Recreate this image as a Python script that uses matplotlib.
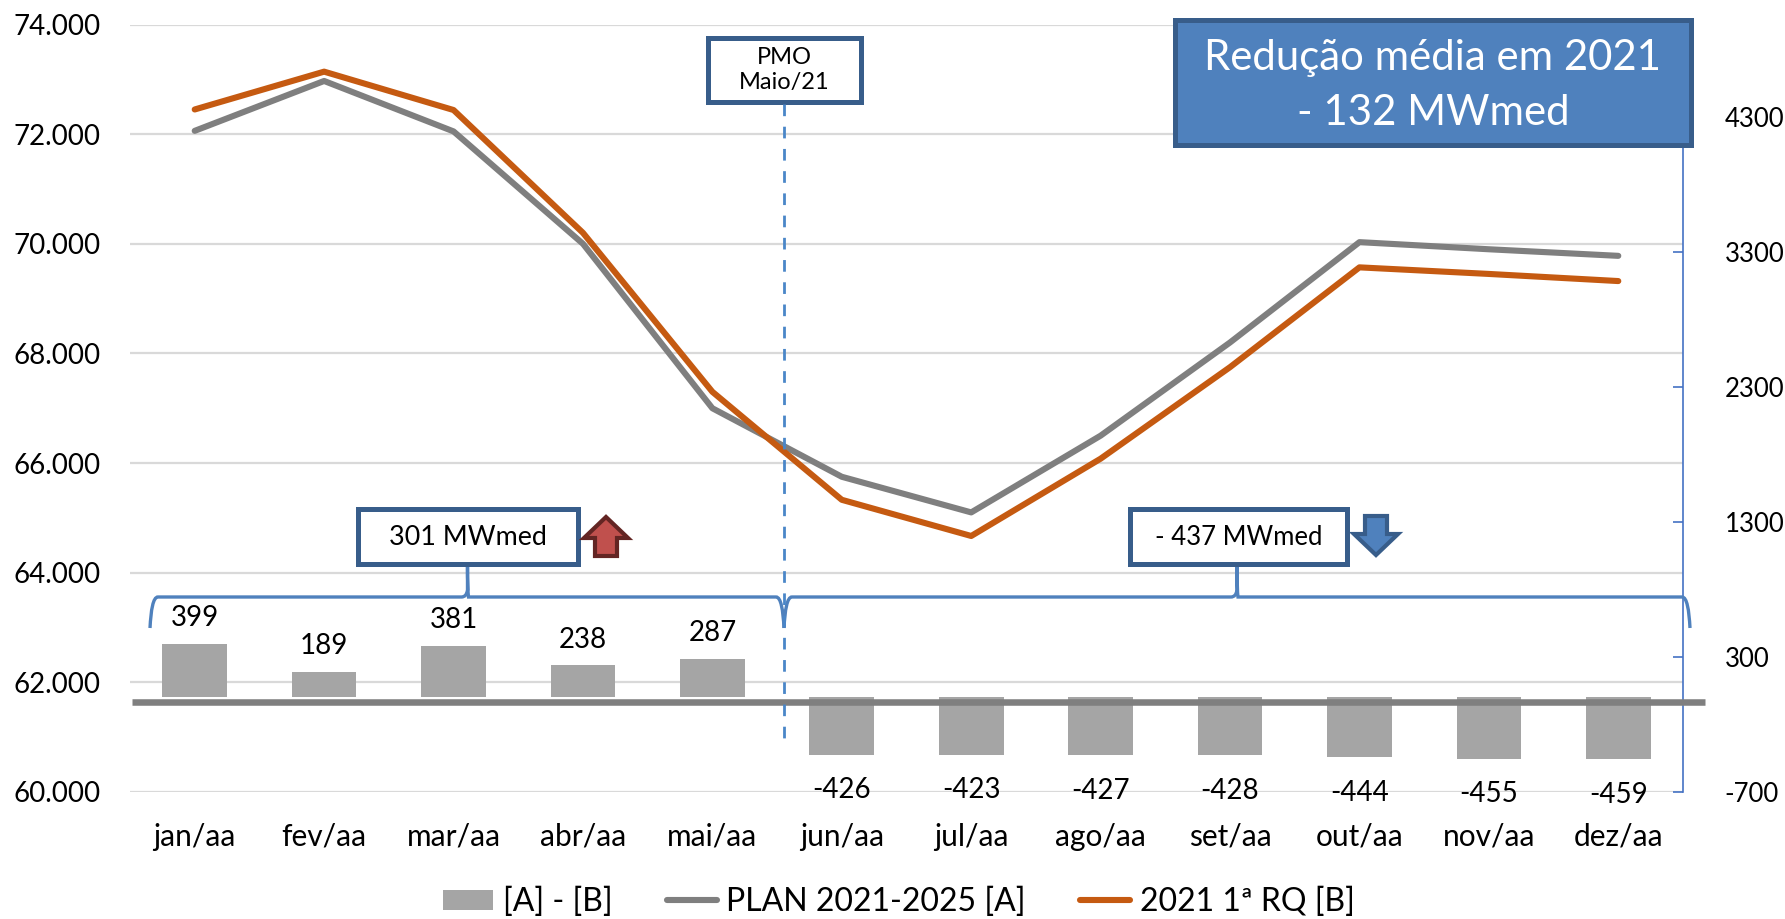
import numpy as np
import matplotlib
matplotlib.use('Agg')
import matplotlib.pyplot as plt
from matplotlib.patches import Rectangle, Polygon, PathPatch
from matplotlib.path import Path

plt.rcParams['font.family'] = ['Lato', 'DejaVu Sans']
plt.rcParams['axes.unicode_minus'] = False

months = ['jan/aa', 'fev/aa', 'mar/aa', 'abr/aa', 'mai/aa', 'jun/aa',
          'jul/aa', 'ago/aa', 'set/aa', 'out/aa', 'nov/aa', 'dez/aa']
plan = [72.06, 72.97, 72.05, 70.00, 67.00, 65.75, 65.10, 66.50, 68.20, 70.03, 69.90, 69.78]
rq = [72.45, 73.14, 72.44, 70.20, 67.30, 65.33, 64.67, 66.08, 67.75, 69.57, 69.45, 69.32]
diff = [399, 189, 381, 238, 287, -426, -423, -427, -428, -444, -455, -459]
left_ticks = [60, 62, 64, 66, 68, 70, 72, 74]
right_ticks = [-700, 300, 1300, 2300, 3300, 4300]

W, H = 1785, 919
GRAY = '#7F7F7F'
ORANGE = '#C55A11'
BAR = '#A5A5A5'
BLUE = '#4F81BD'
DARK = '#385D8A'

fig = plt.figure(figsize=(W/100, H/100), dpi=100)
ax = fig.add_axes([130/W, 1-792/H, (1683-130)/W, (792-24.5)/H])
ax2 = ax.twinx()
x = np.arange(12)

# lines on the left axis, bars on the right one
ax.plot(x, plan, color=GRAY, lw=4.4, solid_capstyle='round', label='PLAN 2021-2025 [A]')
ax.plot(x, rq, color=ORANGE, lw=4.4, solid_capstyle='round', label='2021 1ª RQ [B]')
bars = ax2.bar(x, diff, width=0.5, color=BAR, label='[A] - [B]')

ax.set_xlim(-0.5, 11.5)
ax.set_ylim(60, 74)
ax2.set_ylim(-700, 4985)
ax.set_yticks(left_ticks)
ax.set_yticklabels(['{:.3f}'.format(v) for v in left_ticks])
ax2.set_yticks(right_ticks)
ax.set_xticks(x)
ax.set_xticklabels(months)
ax.grid(axis='y', color='#D9D9D9', lw=1.6)
ax.set_axisbelow(True)
ax.tick_params(axis='y', length=0, labelsize=20, pad=21)
ax.tick_params(axis='x', length=0, labelsize=21.5, pad=22)
ax2.tick_params(axis='y', direction='in', length=7, color='#4472C4', width=1.2, labelsize=18.5, pad=30)
for s in ax.spines.values():
    s.set_visible(False)
for s in ['top', 'left', 'bottom']:
    ax2.spines[s].set_visible(False)
ax2.spines['right'].set_color('#4472C4')
ax2.spines['right'].set_linewidth(1.2)

for xi, v in zip(x, diff):
    off = 18.5 if v > 0 else -25.5
    ax2.annotate(str(v), (xi, v), xytext=(0, off), textcoords='offset points',
                 ha='center', va='center', fontsize=20, color='black')

# hand drawn things of the slide, in pixels
ov = fig.add_axes([0, 0, 1, 1])
ov.set_xlim(0, W)
ov.set_ylim(H, 0)
ov.axis('off')
ov.patch.set_alpha(0)

ov.plot([132, 1705], [702, 702], color=GRAY, lw=4.7, solid_capstyle='butt')
ov.plot([784, 784], [104, 742], color='#4A86C8', lw=2, dashes=(4.2, 3.8))


def brace(x0, xm, x1, tip):
    top, low = 597, 628
    verts = [(x0, low), (x0+1, 610), (x0+3, top), (x0+8, top), (xm-6, top),
             (xm-1, top), (xm, 590), (xm, tip), (xm, 590), (xm+1, top), (xm+6, top),
             (x1-8, top), (x1-3, top), (x1-1, 610), (x1, low)]
    codes = [Path.MOVETO, Path.CURVE4, Path.CURVE4, Path.CURVE4, Path.LINETO,
             Path.CURVE3, Path.CURVE3, Path.LINETO, Path.CURVE3, Path.CURVE3, Path.LINETO,
             Path.LINETO, Path.CURVE4, Path.CURVE4, Path.CURVE4]
    ov.add_patch(PathPatch(Path(verts, codes), fc='none', ec=BLUE, lw=2.4))


brace(150, 467.5, 784, 566)
brace(784, 1237, 1690, 566)


def box(x0, y0, x1, y1, txt, size, fc='white', ec=DARK, col='black', lw=3.6, ls=1.2, dy=0):
    ov.add_patch(Rectangle((x0+2, y0+2), x1-x0-4, y1-y0-4, fc=fc, ec=ec, lw=lw))
    ov.text((x0+x1)/2, (y0+y1)/2+dy, txt, ha='center', va='center', fontsize=size,
            color=col, linespacing=ls)


box(706, 36, 863, 104, 'PMO\nMaio/21', 17, ls=1.25)
box(356, 507, 580, 566, '301 MWmed', 19.4, dy=1)
box(1128, 507, 1349, 566, '- 437 MWmed', 18.5, dy=1)
box(1173, 18, 1693, 147, 'Redução média em 2021\n- 132 MWmed', 30.2, fc=BLUE, col='white', ls=1.53, dy=3)

ov.add_patch(Polygon([(606, 517), (628, 538), (617, 538), (617, 556), (595, 556), (595, 538), (584, 538)],
                     closed=True, fc='#C0504D', ec='#632523', lw=3))
ov.add_patch(Polygon([(1376, 555), (1354, 534), (1365, 534), (1365, 516), (1387, 516), (1387, 534), (1398, 534)],
                     closed=True, fc=BLUE, ec=DARK, lw=3))

h1, l1 = ax.get_legend_handles_labels()
fig.legend([bars] + h1, ['[A] - [B]'] + l1, loc='center', bbox_to_anchor=(899/W, 1-902/H), ncol=3,
           frameon=False, fontsize=23, handlelength=1.57, handleheight=0.6, handletextpad=0.3,
           columnspacing=1.7, borderpad=0, borderaxespad=0)

fig.savefig('out.png', dpi=100)
